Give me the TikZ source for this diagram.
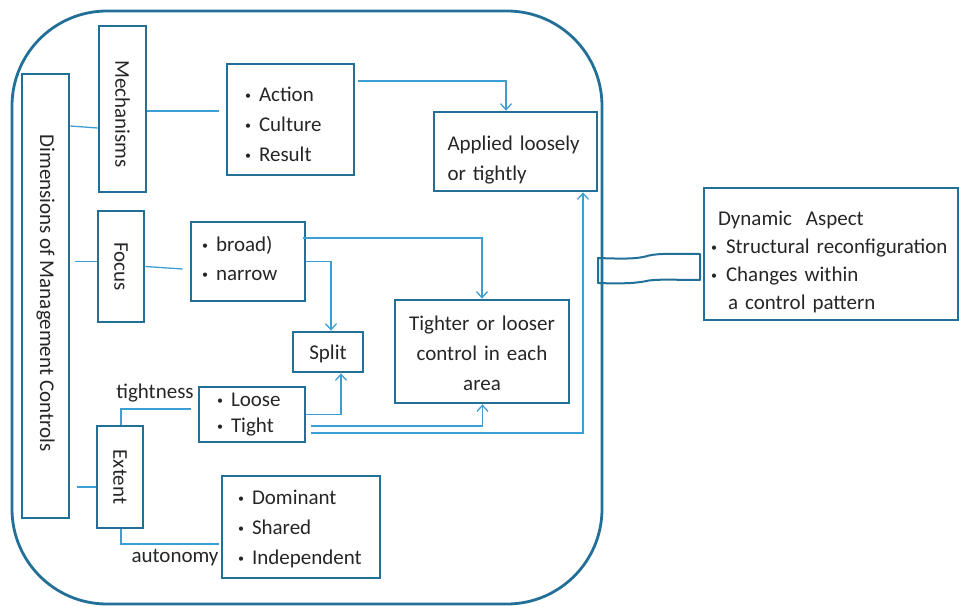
\documentclass[tikz,border=0pt]{standalone}
\usepackage{fontspec}
\setmainfont{Carlito}
\usetikzlibrary{arrows.meta}
\definecolor{boxc}{RGB}{34,112,152}
\definecolor{connc}{RGB}{60,158,210}
\definecolor{txtc}{RGB}{38,38,38}
\newcommand{\bt}{\makebox[14pt][l]{\raisebox{2pt}{\fontsize{12}{12}\selectfont •}}}
\newcommand{\btw}{\makebox[15pt][l]{\raisebox{2pt}{\fontsize{12}{12}\selectfont •}}}
\newcommand{\dn}[1]{\rule{0pt}{#1}}
\newcommand{\upr}[1]{\rule[-#1]{0pt}{0pt}}
\tikzset{
  box/.style={draw=boxc, line width=2.8pt, inner sep=0pt, text=txtc,
    font=\fontsize{21}{30}\selectfont},
  vbox/.style={box, rotate=-90},
  conn/.style={draw=connc, line width=1.3pt},
  arr/.style={conn, -{Straight Barb[length=6pt,width=11pt]}},
  lbl/.style={inner sep=0pt, text=txtc, font=\fontsize{21}{30}\selectfont},
}
\begin{document}
\begin{tikzpicture}[x=1pt,y=-1pt]
\useasboundingbox (0,0) rectangle (959,607);
% outer rounded frame
\node[draw=boxc, line width=2.8pt, rounded corners=95pt, minimum width=590pt, minimum height=593pt, inner sep=0pt] (outer) at (307,307.5) {};
% vertical boxes
\node[vbox, minimum width=444pt, minimum height=47pt] (dim) at (45.5,296) {Dimensions of Management Controls\hspace*{6pt}};
\node[vbox, minimum width=166pt, minimum height=47pt] (mech) at (122.5,109) {\hspace*{10pt}Mechanisms};
\node[vbox, minimum width=111pt, minimum height=46pt] (focus) at (121,266.5) {Focus};
\node[vbox, minimum width=102pt, minimum height=46pt] (extent) at (120,477) {Extent};
% content boxes
\node[box, minimum width=127pt, minimum height=111pt, text width=91pt, align=left] (action) at (290.5,119.5)
  {\dn{25pt}\bt Action\\\bt Culture\\\bt Result};
\node[box, minimum width=114pt, minimum height=79pt, text width=92pt, align=left, font=\fontsize{21}{29}\selectfont] (bn) at (248,261.5)
  {\bt broad)\\\bt narrow\upr{6pt}};
\node[box, minimum width=163pt, minimum height=79pt, text width=136pt, align=left] (applied) at (515.5,151.5)
  {\dn{31pt}Applied loosely\\or tightly};
\node[box, minimum width=174pt, minimum height=103pt, text width=160pt, align=center] (tighter) at (482,351.5)
  {\dn{19pt}Tighter or looser\\control in each\\area};
\node[box, minimum width=70pt, minimum height=40pt] (split) at (328,352) {\dn{19pt}Split};
\node[box, minimum width=106pt, minimum height=55pt, text width=70pt, align=left, font=\fontsize{21}{26}\selectfont] (lt) at (252,414.5)
  {\bt Loose\\\bt Tight};
\node[box, minimum width=158pt, minimum height=102pt, text width=126pt, align=left] (dom) at (301,527)
  {\dn{19pt}\bt Dominant\\\bt Shared\\\bt Independent};
\node[box, minimum width=254pt, minimum height=132pt, text width=240pt, align=left, font=\fontsize{21}{28}\selectfont] (dyn) at (831,254)
  {\dn{31pt}\hspace{7pt}Dynamic\ \ Aspect\\\btw Structural reconfiguration\\\btw Changes within\\\hspace{17pt}a control pattern};
% labels
\node[lbl] (tlbl) at (155,393) {tightness};
\node[lbl] (albl) at (175,558) {autonomy};
% connectors
\draw[conn] ([yshift=170pt]dim.north) -- ([yshift=-19pt]mech.south);
\draw[conn] ([xshift=5pt,yshift=5pt]dim.north |- focus.south) -- ([yshift=5pt]focus.south);
\draw[conn] ([xshift=7pt,yshift=-10pt]dim.north |- extent.south) -- ([yshift=-10pt]extent.south);
\draw[conn] ([yshift=-2pt]mech.north) -- ([xshift=-7pt,yshift=8.5pt]action.west);
\draw[conn] (focus.north) -- ([xshift=-7pt,yshift=-7.5pt]bn.west);
\draw[arr] ([xshift=3pt,yshift=38.5pt]action.east) -| ([xshift=-9.5pt]applied.north);
\draw[arr] ([xshift=-3pt,yshift=23.5pt]bn.east) -| (tighter.north);
\draw[arr] (bn.east) -| ([xshift=3pt]split.north);
\draw[arr] (lt.east) -| ([xshift=13pt]split.south);
\draw[arr] ([xshift=5pt,yshift=-11.5pt]lt.east) -| ([xshift=0.5pt]tighter.south);
\draw[arr] ([xshift=5pt,yshift=-18.5pt]lt.east) -| ([xshift=67.5pt]applied.south);
\draw[conn] ([xshift=1pt]extent.west) |- ([xshift=-7pt,yshift=5.5pt]lt.west);
\draw[conn] ([xshift=1pt]extent.east) |- ([xshift=-2pt,yshift=-17pt]dom.west);
% wavy band joining frame and dynamic box
\draw[draw=boxc, line width=2pt, line join=round]
  (598,258) .. controls (625,259) and (638,259) .. (649,255.5)
  .. controls (660,253) and (680,254) .. (700,254) -- (700,280)
  .. controls (680,280) and (660,279) .. (649,280.5)
  .. controls (638,283) and (625,284) .. (598,283) -- cycle;
\end{tikzpicture}
\end{document}
